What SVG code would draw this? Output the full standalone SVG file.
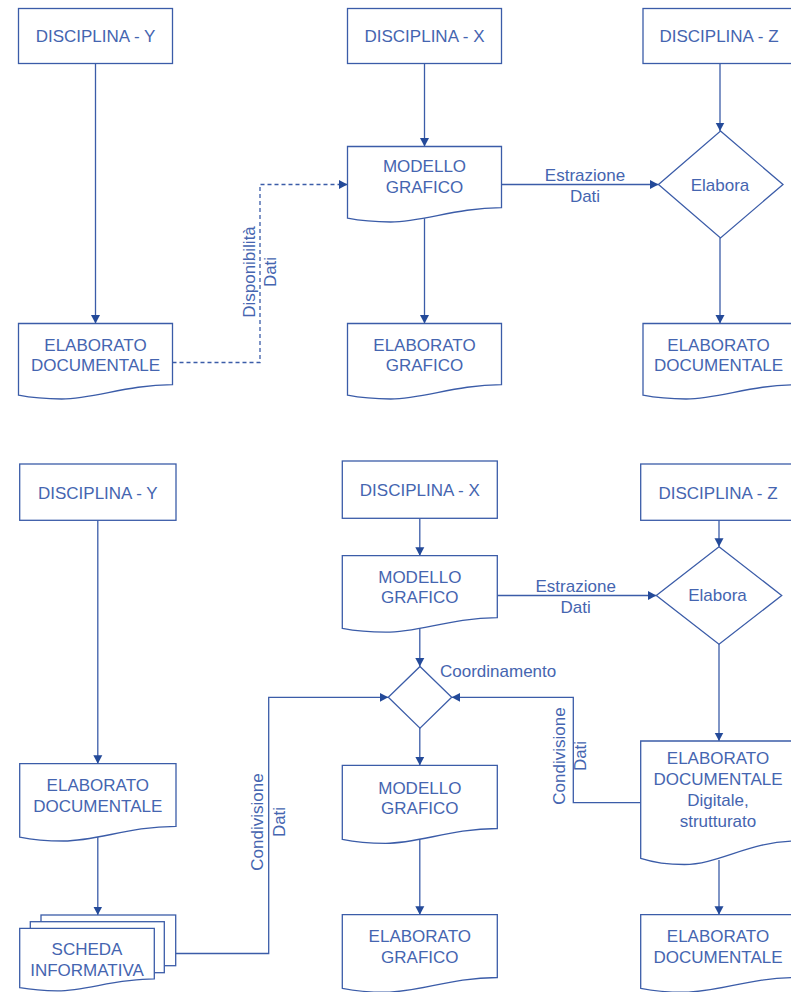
<svg xmlns="http://www.w3.org/2000/svg" width="791" height="992" viewBox="0 0 791 992">
<style>
.n{fill:#fff;stroke:#3b5ca8;stroke-width:1.3}
.t{font-family:"Liberation Sans",Arial,sans-serif;font-size:17px;fill:#4565b0;text-anchor:middle}
.c{fill:none;stroke:#3b5ca8;stroke-width:1.3}
.a{marker-end:url(#ah)}
.d{stroke-dasharray:4 3}
</style>
<defs>
<marker id="ah" markerUnits="userSpaceOnUse" markerWidth="9" markerHeight="10" refX="8.5" refY="5" orient="auto">
<path d="M0,0.5 L8.5,5 L0,9.5 Z" fill="#244a99"/>
</marker>
</defs>
<rect width="791" height="992" fill="#fff"/>
<g id="connectors">
<path class="c a" d="M95.5,63.5 V323.5"/>
<path class="c a" d="M424.5,63.5 V146.5"/>
<path class="c a" d="M424.5,215 V323.5"/>
<path class="c a" d="M501.5,184.5 H658.5"/>
<path class="c a" d="M720,63.5 V131"/>
<path class="c a" d="M720,238 V323.5"/>
<path class="c a d" d="M172.5,362.5 H260 V184.5 H347.5"/>
<text class="t" x="585" y="181">Estrazione</text>
<text class="t" x="585" y="201.5">Dati</text>
<g transform="translate(265,272) rotate(-90)"><text class="t" x="0" y="-10.5">Disponibilità</text><text class="t" x="0" y="10.5">Dati</text></g>
<path class="c a" d="M97.8,520.3 V763.7"/>
<path class="c a" d="M97.8,836 V915"/>
<path class="c a" d="M176,953.5 H268.7 V697.3 H388.3"/>
<path class="c a" d="M419.8,518.3 V555.7"/>
<path class="c a" d="M497.3,595.5 H656.3"/>
<path class="c a" d="M719,520.3 V546.7"/>
<path class="c a" d="M419.8,625 V666.5"/>
<path class="c a" d="M419.8,727.5 V765.3"/>
<path class="c a" d="M419.8,838 V914.7"/>
<path class="c a" d="M719,644 V741"/>
<path class="c a" d="M640.7,802.7 H573.3 V697.3 H451.7"/>
<path class="c a" d="M719,860 V914.7"/>
<text class="t" x="575.7" y="592.3">Estrazione</text>
<text class="t" x="575.7" y="613.3">Dati</text>
<text class="t" x="440" y="676.7" style="text-anchor:start">Coordinamento</text>
<g transform="translate(274,822) rotate(-90)"><text class="t" x="0" y="-10.8">Condivisione</text><text class="t" x="0" y="10.8">Dati</text></g>
<g transform="translate(575.7,756) rotate(-90)"><text class="t" x="0" y="-10.4">Condivisione</text><text class="t" x="0" y="10.4">Dati</text></g>
</g>
<g id="t_dy"><rect class="n" x="18.5" y="8.5" width="154" height="55"/><text class="t" x="95.5" y="42.3">DISCIPLINA - Y</text></g>
<g id="t_dx"><rect class="n" x="347.5" y="8.5" width="154" height="55"/><text class="t" x="424.5" y="42.3">DISCIPLINA - X</text></g>
<g id="t_dz"><rect class="n" x="643" y="8.5" width="154" height="55"/><text class="t" x="719" y="42.3">DISCIPLINA - Z</text></g>
<g id="t_mg"><path class="n" d="M347.5,146.5 H501.5 V207.7 C455.3,207.7 424.5,222 390.6,222 C370.6,222 355.2,219.7 347.5,218.2 Z"/><text class="t" x="424.5" y="172">MODELLO</text><text class="t" x="424.5" y="193">GRAFICO</text></g>
<g id="t_el"><polygon class="n" points="720.5,131 783,184.5 720.5,238 658.5,184.5"/><text class="t" x="720" y="190.7">Elabora</text></g>
<g id="t_ed"><path class="n" d="M18.5,323.5 H172.5 V384.7 C126.3,384.7 95.5,399 61.6,399 C41.6,399 26.2,396.7 18.5,395.2 Z"/><text class="t" x="95.5" y="351">ELABORATO</text><text class="t" x="95.5" y="371">DOCUMENTALE</text></g>
<g id="t_eg"><path class="n" d="M347.5,323.5 H501.5 V384.7 C455.3,384.7 424.5,399 390.6,399 C370.6,399 355.2,396.7 347.5,395.2 Z"/><text class="t" x="424.5" y="351">ELABORATO</text><text class="t" x="424.5" y="371">GRAFICO</text></g>
<g id="t_ez"><path class="n" d="M643,323.5 H797 V384.7 C750.8,384.7 720,399 686.1,399 C666.1,399 650.7,396.7 643,395.2 Z"/><text class="t" x="718.5" y="351">ELABORATO</text><text class="t" x="718.5" y="371">DOCUMENTALE</text></g>
<g id="b_dy"><rect class="n" x="19.7" y="464" width="156.3" height="56.3"/><text class="t" x="97.8" y="499.3">DISCIPLINA - Y</text></g>
<g id="b_dx"><rect class="n" x="342.3" y="461" width="155" height="57.3"/><text class="t" x="419.8" y="495.7">DISCIPLINA - X</text></g>
<g id="b_dz"><rect class="n" x="640.7" y="464" width="156" height="56.3"/><text class="t" x="718" y="499.3">DISCIPLINA - Z</text></g>
<g id="b_mg1"><path class="n" d="M342.3,555.7 H497.3 V617.7 C450.8,617.7 419.8,632.2 385.7,632.2 C365.6,632.2 350.1,629.9 342.3,628.4 Z"/><text class="t" x="419.8" y="582.7">MODELLO</text><text class="t" x="419.8" y="603.3">GRAFICO</text></g>
<g id="b_el"><polygon class="n" points="719,546.7 781.7,595.5 719,644.3 656.3,595.5"/><text class="t" x="717.5" y="600.7">Elabora</text></g>
<g id="b_co"><polygon class="n" points="420,666.5 451.7,697.3 420,728.1 388.3,697.3"/></g>
<g id="b_ed"><path class="n" d="M19.7,763.7 H176 V826.3 C129.1,826.3 97.9,841 63.5,841 C43.1,841 27.5,838.7 19.7,837.1 Z"/><text class="t" x="97.8" y="791">ELABORATO</text><text class="t" x="97.8" y="812">DOCUMENTALE</text></g>
<g id="b_mg2"><path class="n" d="M342.3,765.3 H497.3 V828.5 C450.8,828.5 419.8,843.3 385.7,843.3 C365.6,843.3 350.1,841 342.3,839.4 Z"/><text class="t" x="419.8" y="793.7">MODELLO</text><text class="t" x="419.8" y="814.3">GRAFICO</text></g>
<g id="b_dd"><path class="n" d="M640.7,741 H796.7 V841 C749.9,841 718.7,864.5 684.4,864.5 C664.1,864.5 648.5,860.8 640.7,858.3 Z"/><text class="t" x="718" y="764.3">ELABORATO</text><text class="t" x="718" y="785">DOCUMENTALE</text><text class="t" x="718" y="806">Digitale,</text><text class="t" x="718" y="827">strutturato</text></g>
<g id="b_sc"><rect class="n" x="41" y="915" width="134.7" height="50.7"/><rect class="n" x="30.3" y="921.7" width="134" height="51"/><path class="n" d="M19.7,928.3 H154.3 V978.9 C113.9,978.9 87,990.8 57.4,990.8 C39.9,990.8 26.4,988.9 19.7,987.7 Z"/><text class="t" x="87" y="955">SCHEDA</text><text class="t" x="87" y="976">INFORMATIVA</text></g>
<g id="b_eg"><path class="n" d="M342.3,914.7 H497.3 V977.5 C450.8,977.5 419.8,992.2 385.7,992.2 C365.6,992.2 350.1,989.9 342.3,988.3 Z"/><text class="t" x="419.8" y="941.7">ELABORATO</text><text class="t" x="419.8" y="962.7">GRAFICO</text></g>
<g id="b_ez"><path class="n" d="M640.7,914.7 H796.7 V977.5 C749.9,977.5 718.7,992.2 684.4,992.2 C664.1,992.2 648.5,989.9 640.7,988.3 Z"/><text class="t" x="718" y="941.7">ELABORATO</text><text class="t" x="718" y="962.7">DOCUMENTALE</text></g>
</svg>
